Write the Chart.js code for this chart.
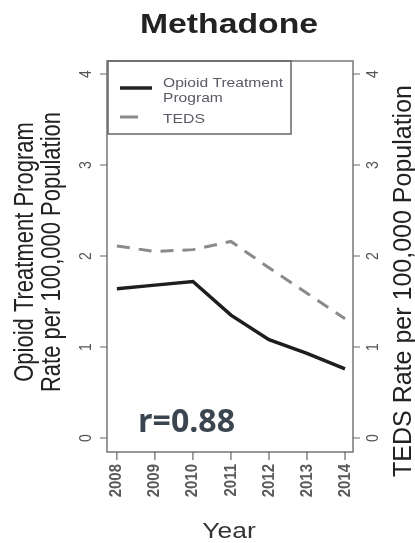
<!DOCTYPE html>
<html>
<head>
<meta charset="utf-8">
<script src="https://cdn.jsdelivr.net/npm/chart.js@4"></script>
<style>
  html, body { margin: 0; padding: 0; background: #fff; }
  canvas { display: block; }
</style>
</head>
<body>
<canvas id="chart" width="415" height="543"></canvas>
<script>
const years = [2008, 2009, 2010, 2011, 2012, 2013, 2014];
const otpRates = [1.64, 1.68, 1.72, 1.35, 1.08, 0.93, 0.76];
const tedsRates = [2.11, 2.05, 2.07, 2.16, 1.87, 1.59, 1.31];
const yTicks = [0, 1, 2, 3, 4];
const seriesNames = ['Opioid Treatment Program', 'TEDS'];

const ctx = document.getElementById('chart').getContext('2d');

function drawText(c, text, x, y, opts) {
    c.save();
    c.font = opts.font;
    c.fillStyle = opts.color || '#333';
    c.textAlign = opts.align || 'left';
    c.textBaseline = opts.baseline || 'alphabetic';
    c.translate(x, y);
    if (opts.width) {
        const w = c.measureText(text).width;
        c.scale(opts.width / w, 1);
    } else if (opts.sx) {
        c.scale(opts.sx, 1);
    }
    if (opts.rot) c.rotate(opts.rot);
    c.fillText(text, 0, 0);
    c.restore();
}

const decorations = {
    id: 'decorations',
    afterDraw(chart) {
        const c = chart.ctx;
        const a = chart.chartArea;
        const xs = chart.scales.x;
        const ys = chart.scales.y;
        const ys2 = chart.scales.y2;

        // plot box
        c.save();
        c.strokeStyle = '#777';
        c.lineWidth = 1.5;
        c.strokeRect(a.left, a.top, a.right - a.left, a.bottom - a.top);

        // ticks
        c.strokeStyle = '#666';
        c.lineWidth = 1.2;
        c.beginPath();
        yTicks.forEach(v => {
            const py = ys.getPixelForValue(v);
            c.moveTo(a.left, py); c.lineTo(a.left - 7, py);
            const py2 = ys2.getPixelForValue(v);
            c.moveTo(a.right, py2); c.lineTo(a.right + 7, py2);
        });
        years.forEach(yr => {
            const px = xs.getPixelForValue(yr);
            c.moveTo(px, a.bottom); c.lineTo(px, a.bottom + 8);
        });
        c.stroke();
        c.restore();

        // tick labels
        const tickFont = '14px "Liberation Sans", Arial, sans-serif';
        yTicks.forEach(v => {
            drawText(c, String(v), 86, ys.getPixelForValue(v), {
                font: tickFont, color: '#555',
                align: 'center', baseline: 'middle', rot: -Math.PI / 2, sx: 1.2
            });
            drawText(c, String(v), 373, ys2.getPixelForValue(v), {
                font: tickFont, color: '#555',
                align: 'center', baseline: 'middle', rot: -Math.PI / 2, sx: 1.2
            });
        });
        years.forEach(yr => {
            drawText(c, String(yr), xs.getPixelForValue(yr), a.bottom + 12, {
                font: 'bold 15px "Liberation Sans", Arial, sans-serif', color: '#5a5a5a',
                align: 'right', baseline: 'middle', rot: -Math.PI / 2, sx: 1.1
            });
        });

        // titles
        drawText(c, 'Methadone', 229, 33, {
            font: 'bold 28px "Liberation Sans", Arial, sans-serif', color: '#222',
            align: 'center', width: 178
        });
        drawText(c, 'Year', 229, 538, {
            font: '22px "Liberation Sans", Arial, sans-serif', color: '#333',
            align: 'center', sx: 1.2
        });
        drawText(c, 'Opioid Treatment Program', 25, 252, {
            font: '22px "Liberation Sans", Arial, sans-serif', color: '#222',
            align: 'center', baseline: 'middle', rot: -Math.PI / 2, sx: 1.25
        });
        drawText(c, 'Rate per 100,000 Population', 52, 252, {
            font: '22px "Liberation Sans", Arial, sans-serif', color: '#222',
            align: 'center', baseline: 'middle', rot: -Math.PI / 2, sx: 1.25
        });
        drawText(c, 'TEDS Rate per 100,000 Population', 404, 281, {
            font: '25px "Liberation Sans", Arial, sans-serif', color: '#222',
            align: 'center', baseline: 'middle', rot: -Math.PI / 2, sx: 1.05
        });

        // legend box
        c.save();
        c.strokeStyle = '#666';
        c.lineWidth = 1.5;
        c.strokeRect(a.left + 1, a.top, 183, 73);
        c.lineWidth = 3.5;
        c.strokeStyle = '#222';
        c.beginPath(); c.moveTo(120, 88); c.lineTo(152, 88); c.stroke();
        c.lineWidth = 3;
        c.strokeStyle = '#8a8a8a';
        c.beginPath(); c.moveTo(120, 117); c.lineTo(138, 117); c.stroke();
        c.restore();
        const legFont = '13px "Liberation Sans", Arial, sans-serif';
        drawText(c, 'Opioid Treatment', 163, 87, { font: legFont, color: '#5a5a66', width: 120 });
        drawText(c, 'Program', 163, 102, { font: legFont, color: '#5a5a66', sx: 1.2 });
        drawText(c, 'TEDS', 163, 123, { font: legFont, color: '#5a5a66', width: 42 });

        // correlation label
        drawText(c, 'r=0.88', 138, 432, {
            font: 'bold 32px "Open Sans", "Noto Sans", sans-serif', color: '#3b4550',
            width: 97
        });
    }
};

new Chart(ctx, {
    type: 'line',
    data: {
        datasets: [
            {
                label: seriesNames[0],
                data: years.map((yr, i) => ({ x: yr, y: otpRates[i] })),
                yAxisID: 'y',
                borderColor: '#1e1e1e',
                borderWidth: 3.5,
                pointRadius: 0,
                tension: 0,
                fill: false
            },
            {
                label: seriesNames[1],
                data: years.map((yr, i) => ({ x: yr, y: tedsRates[i] })),
                yAxisID: 'y2',
                borderColor: '#8a8a8a',
                borderWidth: 3,
                borderDash: [13, 9],
                pointRadius: 0,
                tension: 0,
                fill: false
            }
        ]
    },
    options: {
        responsive: false,
        animation: false,
        layout: { padding: { left: 107, right: 62, top: 61, bottom: 91 } },
        plugins: {
            legend: { display: false },
            title: { display: false },
            tooltip: { enabled: false }
        },
        scales: {
            x: { type: 'linear', min: 2007.74, max: 2014.21, display: false },
            y: { min: -0.154, max: 4.143, display: false },
            y2: { position: 'right', min: -0.154, max: 4.143, display: false }
        }
    },
    plugins: [decorations]
});
</script>
</body>
</html>
